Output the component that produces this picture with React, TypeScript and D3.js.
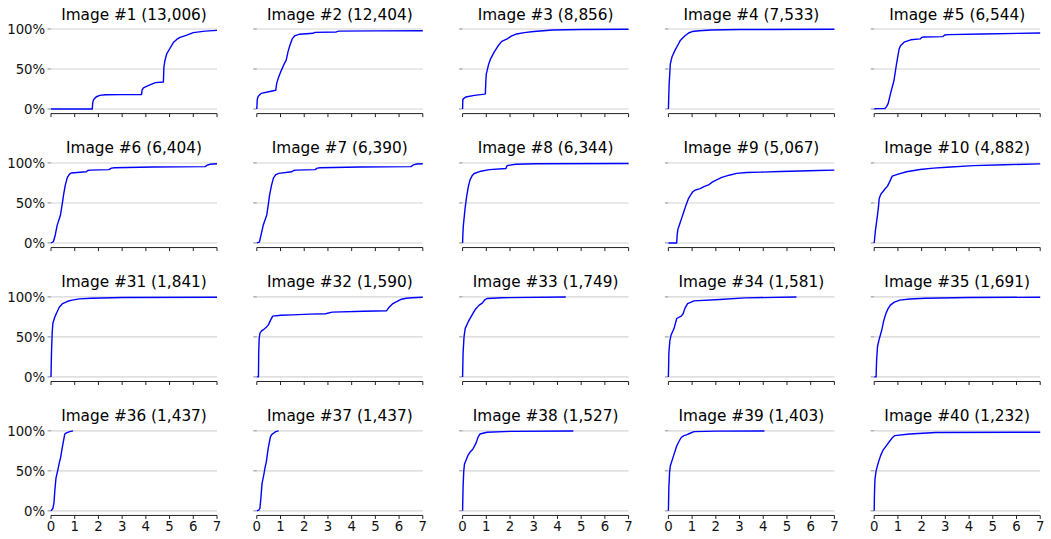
import React from "react";
import * as d3 from "d3";

type Pt = [number, number];

const imageIds: number[] = [1, 2, 3, 4, 5, 6, 7, 8, 9, 10, 31, 32, 33, 34, 35, 36, 37, 38, 39, 40];
const imageCounts: number[] = [13006, 12404, 8856, 7533, 6544, 6404, 6390, 6344, 5067, 4882, 1841, 1590, 1749, 1581, 1691, 1437, 1437, 1527, 1403, 1232];

const xTicks: number[] = [0, 1, 2, 3, 4, 5, 6, 7];
const yTicks: number[] = [0, 50, 100];
const yTickLabels: string[] = ["0%", "50%", "100%"];

const curve1: Pt[] = [[0,0],[1.74,0],[1.76,8],[1.8,12],[1.9,15],[2.05,17],[2.3,17.8],[3.0,18],[3.82,18.2],[3.84,24],[3.9,26.5],[4.05,28.5],[4.2,30.5],[4.4,33],[4.74,33.8],[4.76,52],[4.8,60],[4.88,69],[5.0,75],[5.16,83],[5.3,87],[5.44,89.5],[5.7,92],[6.0,95.5],[6.5,97.3],[7.0,98.3]];
const curve2: Pt[] = [[0,0],[0.02,12],[0.06,16],[0.18,19.5],[0.5,21.5],[0.8,23.5],[0.84,32],[0.9,38],[1.03,48],[1.15,56],[1.24,61],[1.32,72],[1.4,80],[1.5,88],[1.6,91.5],[1.8,93.5],[2.37,94.6],[2.45,95.8],[3.35,96.3],[3.45,97.3],[5,97.6],[7,97.8]];
const curve3: Pt[] = [[0,0],[0.01,12],[0.13,15],[0.5,17],[0.93,18.6],[0.96,19],[0.98,35],[1.0,44],[1.1,56],[1.17,62],[1.33,71],[1.5,79],[1.65,84.5],[1.88,87.6],[2.05,91],[2.28,93.8],[2.6,95.5],[3.0,96.8],[3.8,98.7],[5,99.3],[7,99.6]];
const curve4: Pt[] = [[0,0],[0.03,30],[0.08,56],[0.15,65],[0.27,73],[0.4,80],[0.5,85.5],[0.7,91.5],[0.85,95],[1.0,96.8],[1.3,97.8],[1.8,98.8],[3,99.3],[7,99.6]];
const curve5: Pt[] = [[0,0],[0.1,0.5],[0.45,0.6],[0.52,3],[0.59,7],[0.72,23],[0.83,35],[0.94,56],[1.05,75],[1.11,79],[1.26,83.5],[1.54,86.5],[1.94,87.6],[2.0,89.5],[2.1,90],[2.9,90.5],[2.97,92.5],[3.13,93],[4.56,93.8],[7,95]];
const curve6: Pt[] = [[0,0],[0.1,1.5],[0.18,10],[0.26,22],[0.4,35],[0.47,48],[0.53,60],[0.6,72],[0.69,82],[0.78,86],[0.85,87.5],[1.49,89],[1.55,90.5],[1.65,91],[2.44,91.7],[2.55,93.5],[2.68,94],[4.28,95],[6.5,95.4],[6.6,97.5],[6.7,98.3],[7,99]];
const curve7: Pt[] = [[0,0],[0.11,1],[0.18,10],[0.27,22],[0.42,35],[0.48,47],[0.54,60],[0.62,72],[0.7,81],[0.8,85.5],[0.93,87],[1.47,89],[1.55,90.5],[1.66,91],[2.46,91.7],[2.55,93.5],[2.67,94],[4.35,95],[6.5,95.4],[6.6,97.5],[6.74,98.7],[7,99]];
const curve8: Pt[] = [[0,0],[0.01,10],[0.03,21],[0.1,42],[0.17,58],[0.24,70],[0.31,78.5],[0.4,84],[0.49,86.8],[0.77,89.7],[1.13,91.7],[1.83,93],[1.86,96],[1.92,97],[2.25,98.3],[3.1,99],[7,99.3]];
const curve9: Pt[] = [[0,0],[0.35,0],[0.37,10],[0.4,17],[0.48,24],[0.56,31],[0.65,39],[0.74,47],[0.84,55],[0.94,60],[1.03,64],[1.13,66],[1.34,68],[1.5,70.5],[1.69,72.5],[1.85,76],[1.97,78],[2.25,82],[2.6,85],[2.88,87],[3.3,88],[3.87,88.5],[4.7,89.3],[5.56,90],[6.3,90.6],[7,91]];
const curve10: Pt[] = [[0,0],[0.05,15],[0.13,33],[0.18,45],[0.21,55.6],[0.28,61],[0.38,64.6],[0.47,68],[0.56,71],[0.66,77],[0.76,83.5],[1.01,86],[1.37,89],[1.93,91.8],[2.5,93.5],[3.06,94.7],[4.18,96.7],[5.5,97.8],[7,98.8]];
const curve31: Pt[] = [[0,0],[0.02,30],[0.05,55],[0.08,67],[0.15,74],[0.22,79],[0.35,87],[0.49,91.7],[0.7,94.5],[0.89,96],[1.2,97.5],[1.7,98.3],[3,99.3],[7,99.6]];
const curve32: Pt[] = [[0,0],[0.07,0],[0.08,30],[0.1,48],[0.13,54.5],[0.2,57.5],[0.3,59.5],[0.4,62],[0.49,65],[0.58,71],[0.67,76],[1.02,77],[1.5,77.5],[2.24,78.5],[2.9,79],[3.18,81],[4.5,82],[5.47,82.6],[5.55,86],[5.74,91.7],[5.9,94],[6.06,96.7],[6.3,98.3],[6.55,99],[7,99.6]];
const curve33: Pt[] = [[0,0],[0.02,30],[0.06,50],[0.11,60.7],[0.24,69],[0.43,79],[0.55,85],[0.7,89.7],[0.84,92.6],[0.92,96],[1.03,98],[1.65,99],[4.35,99.8]];
const curve34: Pt[] = [[0,0],[0.02,30],[0.06,45],[0.11,52],[0.24,60.7],[0.35,73],[0.54,76],[0.62,79],[0.7,86],[0.81,91.7],[1.08,95],[2.16,96.7],[3.24,98.8],[5.4,99.8]];
const curve35: Pt[] = [[0,0],[0.08,0],[0.1,20],[0.14,38],[0.2,46],[0.32,58.7],[0.4,70],[0.49,79],[0.58,85],[0.68,89.7],[0.85,93.5],[1.08,96],[1.5,97.3],[2.15,98.3],[4,99.2],[7,99.6]];
const curve36: Pt[] = [[0,0],[0.08,3],[0.125,10],[0.16,25],[0.21,41],[0.28,50],[0.35,60],[0.4,66],[0.48,80],[0.58,96],[0.65,97.5],[0.79,99],[0.93,100]];
const curve37: Pt[] = [[0,0],[0.08,1],[0.13,3],[0.17,15],[0.22,34],[0.3,46],[0.35,54.5],[0.4,61],[0.48,78],[0.57,92],[0.62,95],[0.7,97],[0.8,99],[0.92,100]];
const curve38: Pt[] = [[0,0],[0.02,30],[0.05,50],[0.08,58.7],[0.22,69],[0.33,74],[0.43,77],[0.57,85],[0.65,92],[0.73,96],[1.03,98.3],[2,99.3],[4.67,99.8]];
const curve39: Pt[] = [[0,0],[0.02,30],[0.05,48],[0.08,56],[0.22,69],[0.35,81],[0.45,87],[0.54,91.7],[0.65,94],[0.76,95],[0.89,96.7],[1.08,99],[2,99.6],[4.05,99.8]];
const curve40: Pt[] = [[0,0],[0.01,20],[0.03,39],[0.08,50],[0.17,60],[0.27,69],[0.375,76],[0.5,81],[0.65,87],[0.75,91],[0.86,94],[1.49,96],[2.6,98],[7,98.3]];

const curves: Pt[][] = [
  curve1, curve2, curve3, curve4, curve5,
  curve6, curve7, curve8, curve9, curve10,
  curve31, curve32, curve33, curve34, curve35,
  curve36, curve37, curve38, curve39, curve40,
];

const W = 1051;
const H = 539;
const NCOLS = 5;
const NROWS = 4;
const LEFT = 51;
const COL_STEP = 205.8;
const PLOT_W = 166;
const TOP = 29;
const ROW_STEP = 133.95;
const PLOT_H = 80;
const FONT = "'DejaVu Sans', sans-serif";

const fmt = d3.format(",");

function Panel({ idx }: { idx: number }) {
  const col = idx % NCOLS;
  const row = Math.floor(idx / NCOLS);
  const tx = LEFT + col * COL_STEP;
  const ty = TOP + row * ROW_STEP;
  const x = d3.scaleLinear().domain([0, 7]).range([0, PLOT_W]);
  const y = d3.scaleLinear().domain([0, 100]).range([PLOT_H, 0]);
  const line = d3
    .line<Pt>()
    .x((d) => x(d[0]))
    .y((d) => y(d[1]));
  const spineY = PLOT_H + 4.6;
  const showY = col === 0;
  const showX = row === NROWS - 1;
  return (
    <g transform={`translate(${tx},${ty})`}>
      <text
        x={PLOT_W / 2}
        y={-9.5}
        textAnchor="middle"
        fontFamily={FONT}
        fontSize={15.3}
        fill="#000"
      >
        {`Image #${imageIds[idx]} (${fmt(imageCounts[idx])})`}
      </text>
      {yTicks.map((t, i) => (
        <g key={t}>
          <line x1={0} x2={PLOT_W} y1={y(t)} y2={y(t)} stroke="#d4d4d4" strokeWidth={1.1} />
          <line x1={-3.5} x2={0} y1={y(t)} y2={y(t)} stroke="#888" strokeWidth={1} />
          {showY && (
            <text
              x={-5.8}
              y={y(t)}
              dy="0.36em"
              textAnchor="end"
              fontFamily={FONT}
              fontSize={13.3}
              fill="#111"
            >
              {yTickLabels[i]}
            </text>
          )}
        </g>
      ))}
      <line x1={0} x2={PLOT_W} y1={spineY} y2={spineY} stroke="#222" strokeWidth={1} />
      {xTicks.map((t) => (
        <g key={t}>
          <line x1={x(t)} x2={x(t)} y1={spineY} y2={spineY + 3.5} stroke="#222" strokeWidth={1} />
          {showX && (
            <text
              x={x(t)}
              y={spineY + 6}
              dy="0.73em"
              textAnchor="middle"
              fontFamily={FONT}
              fontSize={13.3}
              fill="#111"
            >
              {t}
            </text>
          )}
        </g>
      ))}
      <path d={line(curves[idx]) || ""} fill="none" stroke="#0000ff" strokeWidth={1.4} strokeLinejoin="round" />
    </g>
  );
}

export default function App() {
  return (
    <svg
      width={W}
      height={H}
      viewBox={`0 0 ${W} ${H}`}
      style={{ position: "absolute", left: 0, top: 0, background: "#fff" }}
    >
      <rect x={0} y={0} width={W} height={H} fill="#fff" />
      {curves.map((_, i) => (
        <Panel key={i} idx={i} />
      ))}
    </svg>
  );
}
